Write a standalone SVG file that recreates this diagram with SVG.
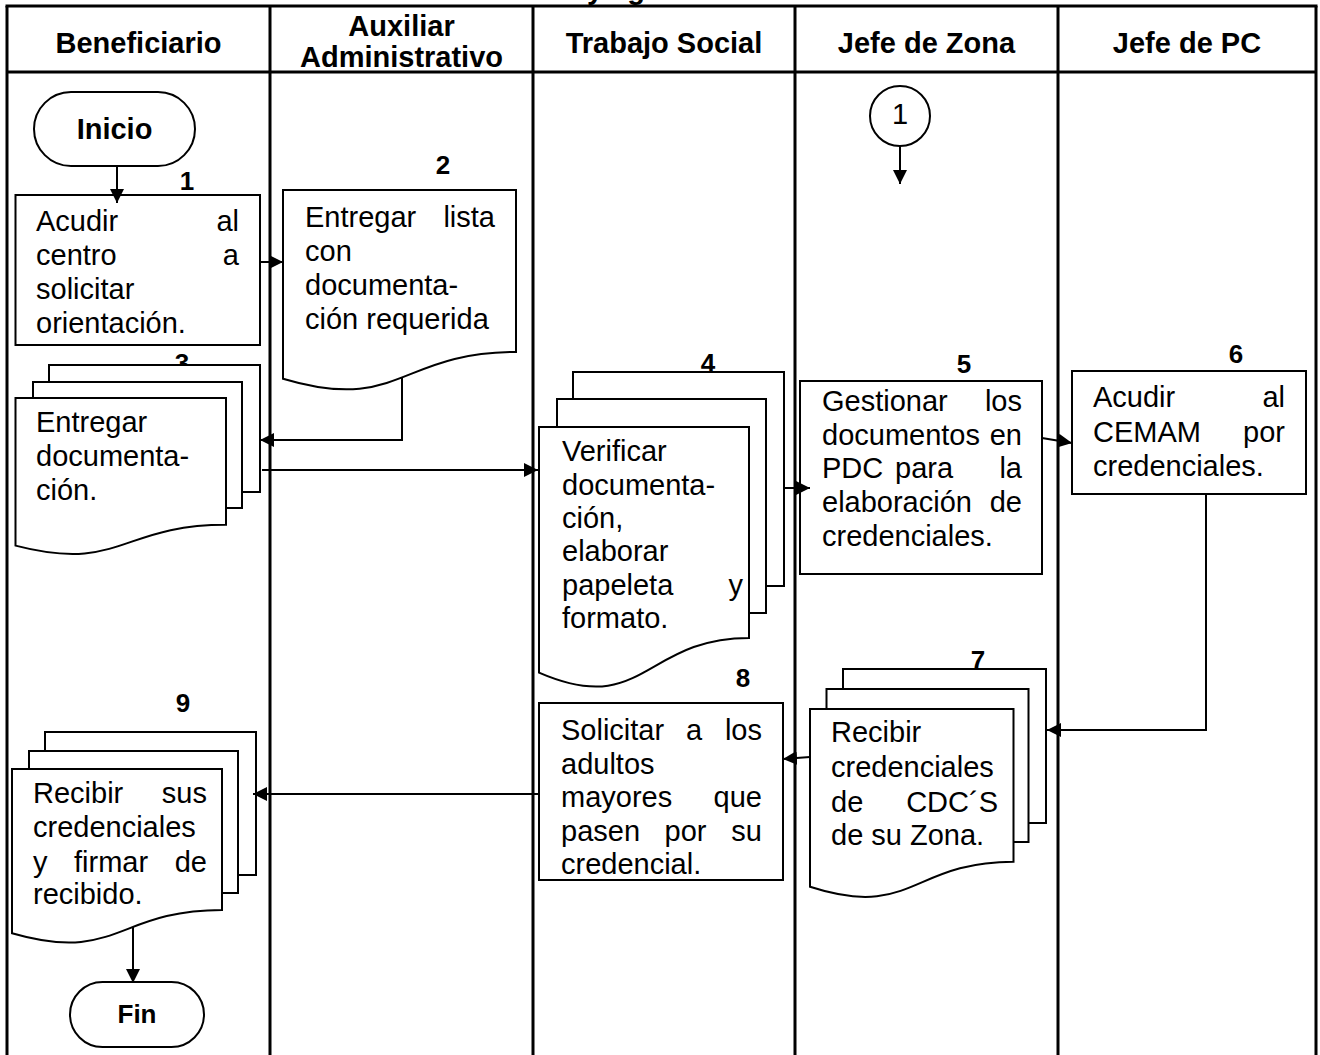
<svg xmlns="http://www.w3.org/2000/svg" width="1320" height="1055" viewBox="0 0 1320 1055">
<defs>
<style>
.lane{stroke:#000;stroke-width:3;fill:none}
.shape{fill:#fff;stroke:#000;stroke-width:2}
.hdr{font-family:"Liberation Sans",Arial,sans-serif;font-weight:bold;font-size:29px;text-anchor:middle;fill:#000}
.t{font-family:"Liberation Sans",Arial,sans-serif;font-size:29px;fill:#000}
.e{text-anchor:end}
.num{font-family:"Liberation Sans",Arial,sans-serif;font-weight:bold;font-size:26px;text-anchor:middle;fill:#000}
.term{font-family:"Liberation Sans",Arial,sans-serif;font-weight:bold;text-anchor:middle;fill:#000}
.conn{stroke:#000;stroke-width:2;fill:none;marker-end:url(#arr)}
</style>
<marker id="arr" markerUnits="userSpaceOnUse" markerWidth="14" markerHeight="14" refX="14" refY="7" orient="auto">
<path d="M0,0 L14,7 L0,14 Z" fill="#000"/>
</marker>
</defs>
<rect width="1320" height="1055" fill="#fff"/>
<g id="title-fragment">
<text class="hdr" x="595" y="-1">y</text>
<text class="hdr" x="636" y="-1">g</text>
</g>
<g id="lanes">
<line class="lane" x1="5.5" y1="6" x2="1317.5" y2="6"/>
<line class="lane" x1="7" y1="72" x2="1316" y2="72"/>
<line class="lane" x1="7" y1="6" x2="7" y2="1055"/>
<line class="lane" x1="270" y1="6" x2="270" y2="1055"/>
<line class="lane" x1="533" y1="6" x2="533" y2="1055"/>
<line class="lane" x1="795" y1="6" x2="795" y2="1055"/>
<line class="lane" x1="1058" y1="6" x2="1058" y2="1055"/>
<line class="lane" x1="1316" y1="6" x2="1316" y2="1055"/>
<text class="hdr" x="138.5" y="53">Beneficiario</text>
<text class="hdr" x="401.5" y="36">Auxiliar</text>
<text class="hdr" x="401.5" y="67">Administrativo</text>
<text class="hdr" x="664" y="53">Trabajo Social</text>
<text class="hdr" x="926.5" y="53">Jefe de Zona</text>
<text class="hdr" x="1187" y="53">Jefe de PC</text>
</g>
<g id="numbers">
<text class="num" x="187" y="190">1</text>
<text class="num" x="443" y="174">2</text>
<text class="num" x="182" y="372">3</text>
<text class="num" x="708" y="372">4</text>
<text class="num" x="964" y="373">5</text>
<text class="num" x="1236" y="363">6</text>
<text class="num" x="978" y="669">7</text>
<text class="num" x="743" y="687">8</text>
<text class="num" x="183" y="712">9</text>
</g>
<g id="inicio">
<rect class="shape" x="34" y="92" width="161" height="74" rx="37"/>
<text class="term" x="114.5" y="139" font-size="29">Inicio</text>
</g>
<g id="step1">
<rect class="shape" x="15.5" y="195" width="244.5" height="150"/>
<text class="t" x="36" y="231">Acudir</text><text class="t e" x="239" y="231">al</text>
<text class="t" x="36" y="265">centro</text><text class="t e" x="239" y="265">a</text>
<text class="t" x="36" y="299">solicitar</text>
<text class="t" x="36" y="333">orientación.</text>
</g>
<g id="step2">
<path class="shape" d="M283,190 H516 V352 C399.5,352 399.5,413.6 283,378.7 Z"/>
<text class="t" x="305" y="227">Entregar</text><text class="t e" x="495" y="227">lista</text>
<text class="t" x="305" y="261">con</text>
<text class="t" x="305" y="295">documenta-</text>
<text class="t" x="305" y="329">ción requerida</text>
</g>
<g id="step3">
<rect class="shape" x="49" y="365" width="211" height="127"/>
<rect class="shape" x="33" y="382" width="209" height="126"/>
<path class="shape" d="M15.5,398 H226 V524.7 C120.75,524.7 120.75,572.9 15.5,545.6 Z"/>
<text class="t" x="36" y="432">Entregar</text>
<text class="t" x="36" y="466">documenta-</text>
<text class="t" x="36" y="500">ción.</text>
</g>
<g id="step4">
<rect class="shape" x="573" y="372" width="211" height="214"/>
<rect class="shape" x="557" y="399" width="209" height="214"/>
<path class="shape" d="M539,427 H749 V637.9 C644,637.9 644,718.1 539,672.6 Z"/>
<text class="t" x="562" y="461">Verificar</text>
<text class="t" x="562" y="495">documenta-</text>
<text class="t" x="562" y="528">ción,</text>
<text class="t" x="562" y="561">elaborar</text>
<text class="t" x="562" y="595">papeleta</text><text class="t e" x="743" y="595">y</text>
<text class="t" x="562" y="628">formato.</text>
</g>
<g id="connector1">
<circle class="shape" cx="900" cy="116" r="30"/>
<text class="t" x="900" y="124" font-size="24" text-anchor="middle">1</text>
</g>
<g id="step5">
<rect class="shape" x="800" y="381" width="242" height="193"/>
<text class="t" x="822" y="411">Gestionar</text><text class="t e" x="1022" y="411">los</text>
<text class="t" x="822" y="444.5">documentos</text><text class="t e" x="1022" y="444.5">en</text>
<text class="t" x="822" y="478">PDC</text><text class="t" x="895" y="478">para</text><text class="t e" x="1022" y="478">la</text>
<text class="t" x="822" y="512">elaboración</text><text class="t e" x="1022" y="512">de</text>
<text class="t" x="822" y="545.5">credenciales.</text>
</g>
<g id="step6">
<rect class="shape" x="1072" y="371" width="234" height="123"/>
<text class="t" x="1093" y="407">Acudir</text><text class="t e" x="1285" y="407">al</text>
<text class="t" x="1093" y="441.5">CEMAM</text><text class="t e" x="1285" y="441.5">por</text>
<text class="t" x="1093" y="476">credenciales.</text>
</g>
<g id="step7">
<rect class="shape" x="843" y="669" width="203" height="154"/>
<rect class="shape" x="826.5" y="689" width="202" height="153"/>
<path class="shape" d="M810,709 H1013.5 V861.7 C911.75,861.7 911.75,919.8 810,886.8 Z"/>
<text class="t" x="831" y="742">Recibir</text>
<text class="t" x="831" y="777">credenciales</text>
<text class="t" x="831" y="811.5">de</text><text class="t e" x="998" y="811.5">CDC´S</text>
<text class="t" x="831" y="845">de su Zona.</text>
</g>
<g id="step8">
<rect class="shape" x="539" y="703" width="244" height="177"/>
<text class="t" x="561" y="740">Solicitar</text><text class="t" x="686" y="740">a</text><text class="t e" x="762" y="740">los</text>
<text class="t" x="561" y="773.5">adultos</text>
<text class="t" x="561" y="807">mayores</text><text class="t e" x="762" y="807">que</text>
<text class="t" x="561" y="840.5">pasen</text><text class="t" x="664.5" y="840.5">por</text><text class="t e" x="762" y="840.5">su</text>
<text class="t" x="561" y="874">credencial.</text>
</g>
<g id="step9">
<rect class="shape" x="45" y="732" width="211" height="143"/>
<rect class="shape" x="29" y="751" width="209" height="142"/>
<path class="shape" d="M12,769 H222 V910 C117,910 117,963.6 12,933.2 Z"/>
<text class="t" x="33" y="803">Recibir</text><text class="t e" x="207" y="803">sus</text>
<text class="t" x="33" y="837">credenciales</text>
<text class="t" x="33" y="871.5">y</text><text class="t" x="74" y="871.5">firmar</text><text class="t e" x="207" y="871.5">de</text>
<text class="t" x="33" y="904">recibido.</text>
</g>
<g id="fin">
<rect class="shape" x="70" y="982" width="134" height="65" rx="32.5"/>
<text class="term" x="137" y="1023" font-size="26">Fin</text>
</g>
<g id="connectors">
<path class="conn" d="M117,166 V203"/>
<path class="conn" d="M260,262 H283"/>
<path class="conn" d="M402,378 V440 H260"/>
<path class="conn" d="M262,470 H538"/>
<path class="conn" d="M784,488 H810"/>
<path class="conn" d="M1042,438 L1072,443"/>
<path class="conn" d="M1206,494 V730 H1047"/>
<path class="conn" d="M810,757 L783,759"/>
<path class="conn" d="M539,794 H253"/>
<path class="conn" d="M133,927 V983"/>
<path class="conn" d="M900,146 V184"/>
</g>
</svg>
